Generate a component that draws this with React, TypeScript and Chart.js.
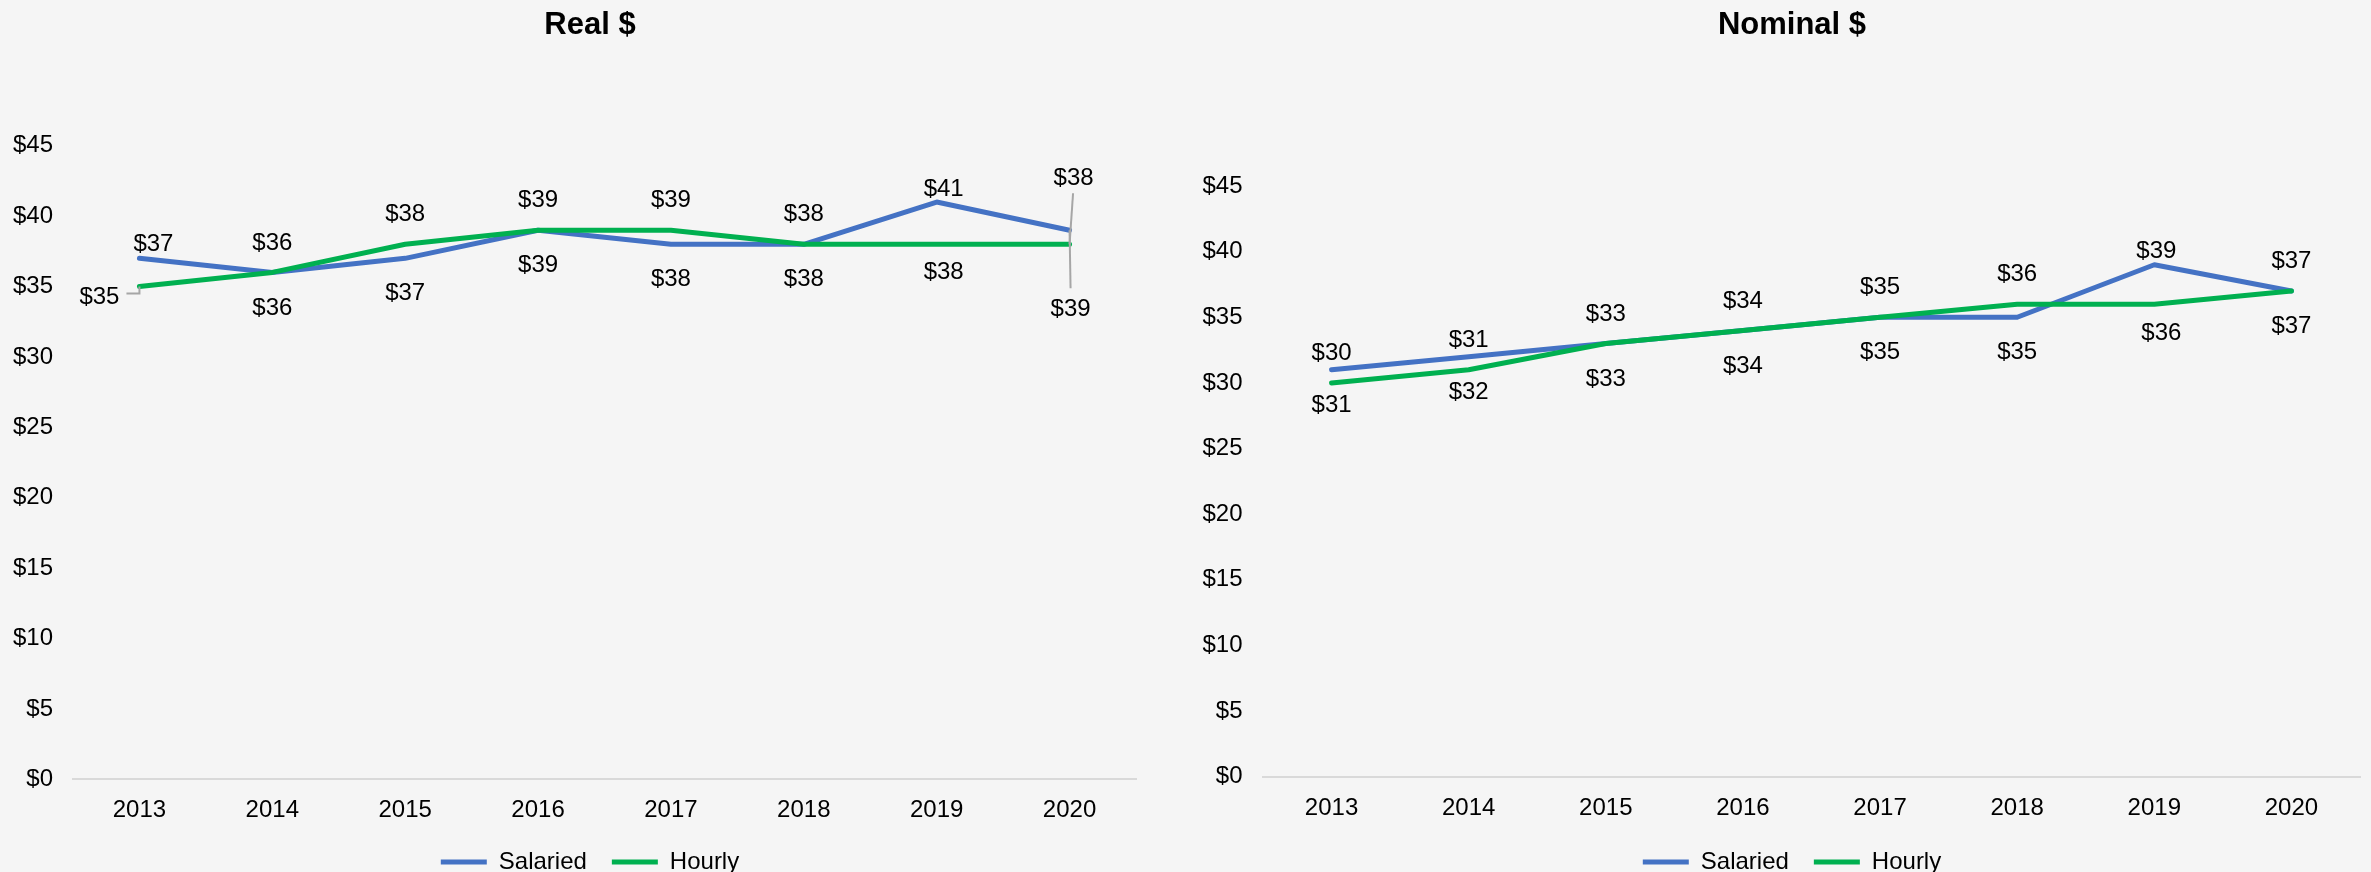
import React, { useEffect, useRef } from 'react';
import { Chart, registerables } from 'chart.js';

Chart.register(...registerables);

// ---------- data ----------
const years = ['2013', '2014', '2015', '2016', '2017', '2018', '2019', '2020'];
const seriesNames = ['Salaried', 'Hourly'];
const realSalaried = [37, 36, 37, 39, 38, 38, 41, 39];
const realHourly = [35, 36, 38, 39, 39, 38, 38, 38];
const nominalSalaried = [31, 32, 33, 34, 35, 35, 39, 37];
const nominalHourly = [30, 31, 33, 34, 35, 36, 36, 37];
const yMin = 0;
const yMax = 45;
const yStep = 5;

// ---------- style ----------
const FONT = '"Liberation Sans", Arial, Helvetica, sans-serif';
const BLUE = '#4472C4';
const GREEN = '#00B050';
const BG = '#f5f5f5';
const LABEL_SHIFT = 2;

Chart.defaults.font.family = FONT;

type Place = { dx: number; dy: number; leader?: number[][] };

// default label placement: Salaried below its point, Hourly above its point
const defaultPlaces: Place[] = [
  { dx: 0, dy: 33.5 },
  { dx: 0, dy: -31.5 },
];

const realOverrides: Record<string, Place> = {
  '0:0': { dx: 14, dy: -16 },
  '1:0': { dx: -40, dy: 9, leader: [[-13, 7], [0, 7], [0, 0]] },
  '0:6': { dx: 7, dy: -14.5 },
  '1:6': { dx: 7, dy: 26.5 },
  '1:7': { dx: 4, dy: -68, leader: [[3.5, -51], [0, 0]] },
  '0:7': { dx: 1, dy: 77.5, leader: [[0, 0], [1, 58]] },
};

const nominalOverrides: Record<string, Place> = {
  '0:6': { dx: 2, dy: -15 },
  '1:6': { dx: 7, dy: 27 },
};

const labelPlugin = {
  id: 'valueLabels',
  afterDatasetsDraw(chart: any, _args: any, opts: any) {
    const ctx = chart.ctx;
    ctx.save();
    chart.data.datasets.forEach((ds: any, di: number) => {
      const meta = chart.getDatasetMeta(di);
      if (meta.hidden) return;
      meta.data.forEach((pt: any, i: number) => {
        const p: Place = (opts.overrides && opts.overrides[`${di}:${i}`]) || opts.defaults[di];
        if (p.leader) {
          ctx.beginPath();
          ctx.strokeStyle = '#a6a6a6';
          ctx.lineWidth = 2;
          p.leader.forEach(([lx, ly], k) => {
            if (k === 0) ctx.moveTo(pt.x + lx, pt.y + ly);
            else ctx.lineTo(pt.x + lx, pt.y + ly);
          });
          ctx.stroke();
        }
        ctx.font = `24px ${FONT}`;
        ctx.fillStyle = '#000';
        ctx.textAlign = 'center';
        ctx.textBaseline = 'middle';
        ctx.fillText('$' + ds.data[i], pt.x + p.dx, pt.y + p.dy + LABEL_SHIFT);
      });
    });
    ctx.restore();
  },
};

type PanelProps = {
  title: string;
  salaried: number[];
  hourly: number[];
  left: number;
  width: number;
  height: number;
  yAxisWidth: number;
  yTickPad: number;
  rightGap: number;
  titleGap: number;
  xAxisHeight: number;
  overrides: Record<string, Place>;
};

const lineStyle = {
  borderWidth: 5,
  pointRadius: 0,
  pointHoverRadius: 0,
  tension: 0,
  fill: false,
  borderCapStyle: 'round' as const,
  borderJoinStyle: 'round' as const,
};

function Panel(props: PanelProps) {
  const ref = useRef<HTMLCanvasElement | null>(null);
  useEffect(() => {
    if (!ref.current) return;
    const chart = new Chart(ref.current, {
      type: 'line',
      data: {
        labels: years,
        datasets: [
          { label: seriesNames[0], data: props.salaried, borderColor: BLUE, backgroundColor: BLUE, order: 1, ...lineStyle },
          { label: seriesNames[1], data: props.hourly, borderColor: GREEN, backgroundColor: GREEN, order: 0, ...lineStyle },
        ],
      },
      options: {
        responsive: false,
        animation: false,
        events: [],
        layout: { padding: 0 },
        plugins: {
          title: {
            display: true,
            text: props.title,
            color: '#000',
            font: { size: 31, weight: 'bold' },
            padding: { top: 7, bottom: props.titleGap },
          },
          legend: {
            display: true,
            position: 'bottom',
            labels: {
              usePointStyle: true,
              pointStyle: 'line',
              pointStyleWidth: 46,
              padding: 25,
              color: '#000',
              font: { size: 24 },
              sort: (a: any, b: any) => a.datasetIndex - b.datasetIndex,
            },
          },
          tooltip: { enabled: false },
          valueLabels: { defaults: defaultPlaces, overrides: props.overrides },
        } as any,
        scales: {
          x: {
            type: 'category',
            offset: true,
            grid: { display: false, drawTicks: false },
            border: { display: true, color: '#d9d9d9', width: 2 },
            ticks: { color: '#000', font: { size: 24 }, padding: 17, maxRotation: 0, autoSkip: false },
            afterFit: (s: any) => { s.height = props.xAxisHeight; },
          },
          y: {
            type: 'linear',
            position: 'left',
            min: yMin,
            max: yMax,
            grid: { display: false, drawTicks: false },
            border: { display: false },
            ticks: {
              stepSize: yStep,
              color: '#000',
              font: { size: 24 },
              padding: props.yTickPad,
              callback: (v: any) => '$' + v,
            },
            afterFit: (s: any) => { s.width = props.yAxisWidth; },
          },
          yR: {
            type: 'linear',
            position: 'right',
            grid: { display: false, drawTicks: false },
            border: { display: false },
            ticks: { display: false },
            afterFit: (s: any) => { s.width = props.rightGap; },
          },
        } as any,
      },
      plugins: [labelPlugin],
    });
    return () => chart.destroy();
  }, []);
  return (
    <canvas
      ref={ref}
      width={props.width}
      height={props.height}
      style={{ position: 'absolute', left: props.left, top: 0, width: props.width, height: props.height }}
    />
  );
}

export default function App() {
  return (
    <div
      style={{
        position: 'fixed',
        left: 0,
        top: 0,
        width: 2371,
        height: 872,
        overflow: 'hidden',
        background: BG,
      }}
    >
      <Panel
        title="Real $"
        salaried={realSalaried}
        hourly={realHourly}
        left={0}
        width={1180}
        height={884}
        yAxisWidth={73}
        yTickPad={20}
        rightGap={44}
        titleGap={101.5}
        xAxisHeight={45.7}
        overrides={realOverrides}
      />
      <Panel
        title="Nominal $"
        salaried={nominalSalaried}
        hourly={nominalHourly}
        left={1195}
        width={1194}
        height={884}
        yAxisWidth={68}
        yTickPad={20.5}
        rightGap={29}
        titleGap={141.8}
        xAxisHeight={48.3}
        overrides={nominalOverrides}
      />
    </div>
  );
}
